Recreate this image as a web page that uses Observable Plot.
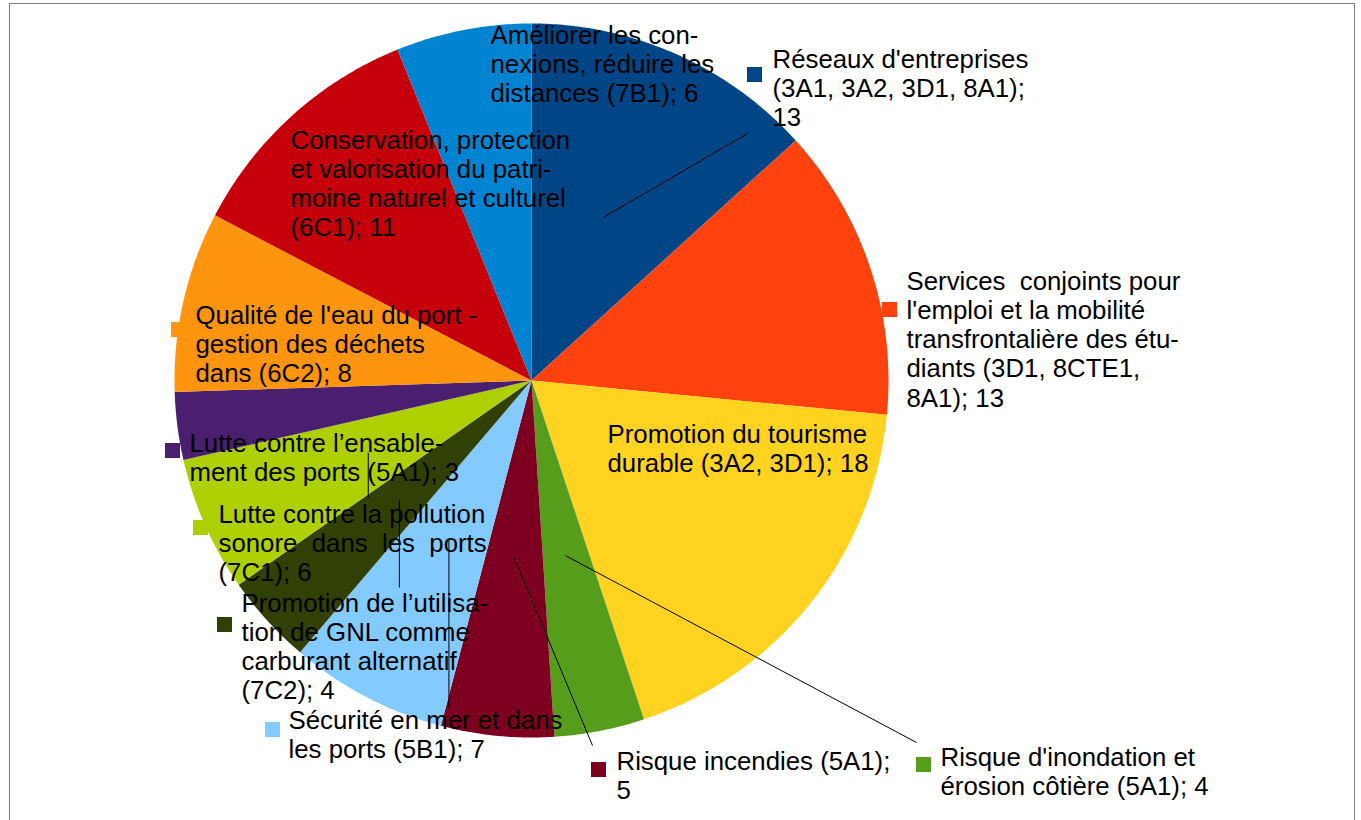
<!DOCTYPE html>
<html>
<head>
<meta charset="utf-8">
<script src="https://cdn.jsdelivr.net/npm/d3@7"></script>
<script src="https://cdn.jsdelivr.net/npm/@observablehq/plot@0.6"></script>
<style>
  body { margin: 0; background: #fff; }
  #wrap { position: relative; width: 1361px; height: 820px; overflow: hidden; background: #fff; }
  #frame { position: absolute; left: 9px; top: 3px; width: 1346px; height: 860px; border: 1.5px solid #7f7f7f; pointer-events: none; box-sizing: border-box; }
  #chart { position: absolute; left: 0; top: 0; }
  svg text { white-space: pre; }
</style>
</head>
<body>
<div id="wrap"><div id="chart"></div><div id="frame"></div></div>
<script>
// ---- data ----
const categories = [
  "Réseaux d'entreprises", "Services conjoints", "Promotion du tourisme", "Risque d'inondation",
  "Risque incendies", "Sécurité en mer", "Promotion GNL", "Pollution sonore",
  "Ensablement", "Qualité de l'eau", "Conservation", "Améliorer les connexions"
];
const values = [13, 13, 18, 4, 5, 7, 4, 6, 3, 8, 11, 6];
const labelTexts = [
  "Réseaux d'entreprises\n(3A1, 3A2, 3D1, 8A1);\n13",
  "Services  conjoints pour\nl'emploi et la mobilité\ntransfrontalière des étu-\ndiants (3D1, 8CTE1,\n8A1); 13",
  "Promotion du tourisme\ndurable (3A2, 3D1); 18",
  "Risque d'inondation et\nérosion côtière (5A1); 4",
  "Risque incendies (5A1);\n5",
  "Sécurité en mer et dans\nles ports (5B1); 7",
  "Promotion de l’utilisa-\ntion de GNL comme\ncarburant alternatif\n(7C2); 4",
  "Lutte contre la pollution\nsonore  dans  les  ports\n(7C1); 6",
  "Lutte contre l’ensable-\nment des ports (5A1); 3",
  "Qualité de l'eau du port -\ngestion des déchets\ndans (6C2); 8",
  "Conservation, protection\net valorisation du patri-\nmoine naturel et culturel\n(6C1); 11",
  "Améliorer les con-\nnexions, réduire les\ndistances (7B1); 6"
];
const colors = ["#004586", "#ff420e", "#ffd320", "#579d1c", "#7e0021", "#83caff",
                "#314004", "#aecf00", "#4b1f6f", "#ff950e", "#c5000b", "#0084d1"];

// ---- layout (pixel space) ----
const W = 1361, H = 820;
const cx = 531, cy = 380, R = 357;
const fontSize = 25.8, lineHeight = 29.3 / 25.8;
// label left x and first-line baseline
const labelX = [772, 906, 607, 940, 616, 288, 241, 218, 189, 195, 290, 490];
const labelB = [67, 289, 442, 765, 769, 728, 611, 522, 451, 323, 148, 43];
// legend key squares (left, top) or null
const keyPos = [[747, 67], [882, 302], null, [916, 757], [591, 762], [265, 722],
                [217, 617], [193, 520], [165, 443], [171, 322], null, null];
// leader line end points or null
const leaderEnd = [[747, 133], null, null, [916, 742], [592, 745], [null, 707],
                   [null, 587], [null, 497], null, null, null, null];

// ---- build ----
const arcs = d3.pie().sort(null).value(d => d)(values);
const wedgePts = [];
arcs.forEach((a, i) => {
  const n = Math.max(4, Math.ceil((a.endAngle - a.startAngle) / (Math.PI / 360)));
  wedgePts.push({cat: categories[i], x: cx, y: cy});
  for (let k = 0; k <= n; k++) {
    const t = a.startAngle + (a.endAngle - a.startAngle) * k / n;
    wedgePts.push({cat: categories[i], x: cx + R * Math.sin(t), y: cy - R * Math.cos(t)});
  }
});

const labelData = categories.map((c, i) => ({
  cat: c, text: labelTexts[i], x: labelX[i],
  y: labelB[i] - 0.71 * lineHeight * fontSize
}));

const keyData = [];
categories.forEach((c, i) => {
  if (keyPos[i]) keyData.push({cat: c, x1: keyPos[i][0], x2: keyPos[i][0] + 15, y1: keyPos[i][1], y2: keyPos[i][1] + 15});
});

const leaderData = [];
arcs.forEach((a, i) => {
  if (!leaderEnd[i]) return;
  const m = (a.startAngle + a.endAngle) / 2;
  const x1 = cx + 0.5 * R * Math.sin(m), y1 = cy - 0.5 * R * Math.cos(m);
  const x2 = leaderEnd[i][0] == null ? x1 : leaderEnd[i][0];
  leaderData.push({x1, y1, x2, y2: leaderEnd[i][1]});
});

const chart = Plot.plot({
  width: W, height: H,
  marginTop: 0, marginRight: 0, marginBottom: 0, marginLeft: 0,
  x: {domain: [0, W], range: [0, W], axis: null},
  y: {domain: [0, H], range: [0, H], axis: null},
  color: {domain: categories, range: colors},
  style: {fontFamily: "'Liberation Sans', Arial, sans-serif", background: "transparent"},
  marks: [
    Plot.line(wedgePts, {x: "x", y: "y", z: "cat", fill: "cat", stroke: "none"}),
    Plot.rect(keyData, {x1: "x1", x2: "x2", y1: "y1", y2: "y2", fill: "cat"}),
    Plot.link(leaderData, {x1: "x1", y1: "y1", x2: "x2", y2: "y2", stroke: "#000", strokeWidth: 1}),
    Plot.text(labelData, {x: "x", y: "y", text: "text", textAnchor: "start", lineAnchor: "top",
      lineHeight, fontSize, fill: "#000"})
  ]
});
document.getElementById("chart").appendChild(chart);
</script>
</body>
</html>
